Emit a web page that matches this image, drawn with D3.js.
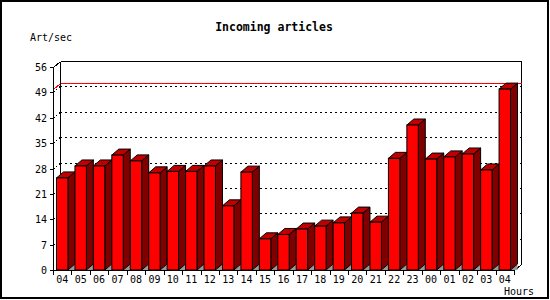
<!DOCTYPE html>
<html>
<head>
<meta charset="utf-8">
<script src="https://cdn.jsdelivr.net/npm/d3@7"></script>
<style>
	body { margin: 0; background: #fff; }
	text { font-family: "DejaVu Sans Mono", monospace; font-size: 10px; fill: #000; }
	.title { font-weight: bold; font-size: 11.5px; }
</style>
</head>
<body>
<svg id="chart" width="550" height="300"></svg>
<script>
var hours = ["04", "05", "06", "07", "08", "09", "10", "11", "12", "13", "14", "15", "16",
	"17", "18", "19", "20", "21", "22", "23", "00", "01", "02", "03", "04"];
var values = [25.4, 28.7, 28.7, 31.7, 30.1, 26.8, 27.2, 27.2, 28.7, 17.7, 27.0, 8.6, 9.8,
	11.3, 12.1, 13.0, 15.7, 13.2, 30.8, 40.0, 30.6, 31.2, 32.0, 27.6, 49.9];
var yTicks = [0, 7, 14, 21, 28, 35, 42, 49, 56];

var options = {
	left: 53, right: 514, top: 67, bottom: 270,
	depthX: 7, depthY: 6,
	barOffset: 3.5, barRatio: 0.62
};

var svg = d3.select('#chart');

// outer frame
svg.append('rect')
	.attr('x', 1).attr('y', 1).attr('width', 547).attr('height', 297)
	.attr('fill', '#fff').attr('stroke', '#000').attr('stroke-width', 2);

var x = d3.scaleBand()
	.domain(d3.range(hours.length))
	.range([options.left, options.right]);

var y = d3.scaleLinear()
	.domain([0, 56])
	.range([options.bottom, options.top]);

var dx = options.depthX, dy = options.depthY;
var g = svg.append('g').attr('shape-rendering', 'crispEdges');

function line(x1, y1, x2, y2, color, dash) {
	var l = g.append('line')
		.attr('x1', x1).attr('y1', y1).attr('x2', x2).attr('y2', y2)
		.style('stroke', color || '#000').attr('stroke-width', 1);
	if (dash) l.attr('stroke-dasharray', dash);
	return l;
}

// grid on back wall
yTicks.slice(1, -1).forEach(function (v) {
	var yy = Math.round(y(v)) + 0.5;
	line(options.left + dx, yy - dy, options.right + dx, yy - dy, '#000', '2,3');
	line(options.left, yy, options.left + dx, yy - dy, '#000', '2,2');
});

// back wall outline
var topY = Math.round(y(56)) + 0.5, botY = Math.round(y(0)) + 0.5;
var L = options.left + 0.5, R = options.right + 0.5;
line(L + dx, topY - dy, R + dx, topY - dy);
line(L + dx, topY - dy, L + dx, botY - dy);
line(R + dx, topY - dy, R + dx, botY - dy);
line(L, topY, L + dx, topY - dy);
line(R, botY, R + dx, botY - dy);

// max line
var maxY = Math.round(y(d3.max(values))) + 0.5;
line(L, maxY, L + dx, maxY - dy, '#ff0000');
line(L + dx, maxY - dy, R + dx, maxY - dy, '#ff0000');

// bars
var bw = x.bandwidth() * options.barRatio;
var bar = svg.selectAll('g.bar')
	.data(values)
	.enter().append('g')
	.classed('bar', true)
	.attr('transform', function (d, i) { return 'translate(' + (x(i) + options.barOffset) + ',0)'; });

bar.append('path')
	.attr('d', function () {
		var b = y(0);
		return 'M' + bw + ' ' + b + 'L' + (bw + dx) + ' ' + (b - dy) + 'L' + (bw + dx) + ' ' + b + 'Z';
	})
	.attr('fill', '#999');

bar.append('path')
	.attr('d', function (d) {
		var t = y(d), b = y(0);
		return 'M' + bw + ' ' + t + 'L' + (bw + dx) + ' ' + (t - dy) +
			'L' + (bw + dx) + ' ' + (b - dy) + 'L' + bw + ' ' + b + 'Z';
	})
	.attr('fill', '#800000').attr('stroke', '#000').attr('stroke-linejoin', 'round');

bar.append('path')
	.attr('d', function (d) {
		var t = y(d);
		return 'M0 ' + t + 'L' + dx + ' ' + (t - dy) + 'L' + (bw + dx) + ' ' + (t - dy) +
			'L' + bw + ' ' + t + 'Z';
	})
	.attr('fill', '#c00000').attr('stroke', '#000').attr('stroke-linejoin', 'round');

bar.append('rect')
	.attr('x', 0)
	.attr('y', function (d) { return y(d); })
	.attr('width', bw)
	.attr('height', function (d) { return y(0) - y(d); })
	.attr('fill', '#ff0000').attr('stroke', '#000');

// front axes
line(L, topY, L, botY);
line(L, botY, R, botY);

// y ticks and labels
yTicks.forEach(function (v) {
	var yy = Math.round(y(v)) + 0.5;
	line(L - 4, yy, L, yy);
	svg.append('text')
		.attr('x', options.left - 6)
		.attr('y', yy)
		.attr('dy', '0.35em')
		.attr('text-anchor', 'end')
		.text(v);
});

// x ticks and labels
d3.range(hours.length + 1).forEach(function (i) {
	var xx = Math.round(options.left + i * x.step()) + 0.5;
	line(xx, botY, xx, botY + 4);
});
hours.forEach(function (h, i) {
	svg.append('text')
		.attr('x', x(i) + x.bandwidth() / 2)
		.attr('y', 279)
		.attr('dy', '0.35em')
		.attr('text-anchor', 'middle')
		.text(h);
});

// titles
svg.append('text').classed('title', true)
	.attr('x', 274).attr('y', 27).attr('dy', '0.35em')
	.attr('text-anchor', 'middle')
	.text('Incoming articles');
svg.append('text')
	.attr('x', 30).attr('y', 37).attr('dy', '0.35em')
	.text('Art/sec');
svg.append('text')
	.attr('x', 534).attr('y', 291).attr('dy', '0.35em')
	.attr('text-anchor', 'end')
	.text('Hours');
</script>
</body>
</html>
